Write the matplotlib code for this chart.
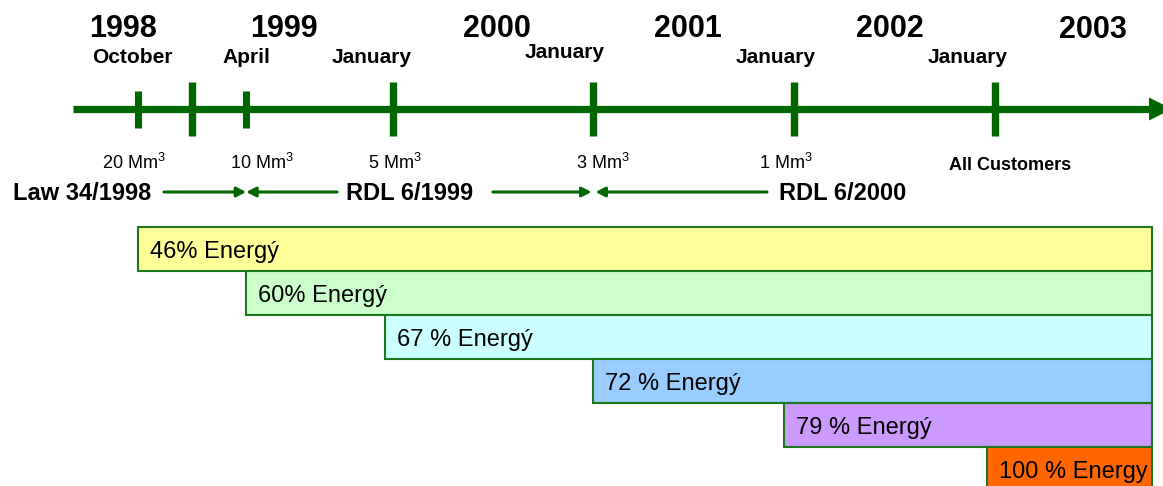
import matplotlib
matplotlib.use("Agg")
import matplotlib.pyplot as plt

plt.rcParams['font.family'] = ['Liberation Sans', 'DejaVu Sans']
plt.rcParams['mathtext.fontset'] = 'custom'
plt.rcParams['mathtext.rm'] = 'Liberation Sans'
plt.rcParams['mathtext.it'] = 'Liberation Sans'

# ---------------- data ----------------
year_labels = ['1998', '1999', '2000', '2001', '2002', '2003']
month_labels = ['October', 'April', 'January', 'January', 'January', 'January']
threshold_labels = ['20 Mm$^{3}$', '10 Mm$^{3}$', '5 Mm$^{3}$', '3 Mm$^{3}$', '1 Mm$^{3}$', 'All Customers']
year_ticks = [1999.0, 2000.0, 2001.0, 2002.0, 2003.0]          # big ticks (January)
event_ticks = [1998.73, 1999.27]                                 # October 1998, April 1999
law_names = ['Law 34/1998', 'RDL 6/1999', 'RDL 6/2000']
law_bounds = [1999.27, 2001.0, 2003.84]                          # end of each law period
bar_labels = ['46% Energý', '60% Energý', '67 % Energý', '72 % Energý', '79 % Energý', '100 % Energy']
bar_starts = [1998.73, 1999.27, 1999.96, 2001.0, 2001.95, 2002.96]
bar_end = 2003.78
bar_colors = ['#FFFF99', '#CCFFCC', '#CCFFFF', '#99CCFF', '#CC99FF', '#FF6600']

# ---------------- layout ----------------
W, H = 1163, 486
PX0, PPY = 192.0, 200.75          # pixel of 1999.0, pixels per year


def yr(px):
    return 1999.0 + (px - PX0) / PPY


GREEN = '#006600'

fig = plt.figure(figsize=(W / 100, H / 100), dpi=100)
ax = fig.add_axes([0, 0, 1, 1])
ax.set_xlim(yr(0), yr(W))
ax.set_ylim(H, 0)
ax.axis('off')

# main timeline
ax.plot([yr(73), yr(1152)], [109, 109], color=GREEN, lw=5.2, solid_capstyle='butt')
ax.fill([yr(1149), yr(1149), yr(1172)], [97.5, 120.5, 109], color=GREEN, lw=0)
ax.vlines(year_ticks, 82, 136, color=GREEN, lw=5.3, capstyle='butt')
ax.vlines(event_ticks, 91, 128, color=GREEN, lw=5.1, capstyle='butt')

# year labels
year_px = [123, 284, 497, 688, 890, 1093]
year_base = [37, 37, 37, 37, 37, 38.5]
for lab, x, b in zip(year_labels, year_px, year_base):
    ax.text(yr(x), b, lab, ha='center', va='baseline', fontsize=22, fontweight='bold')

month_px = [132, 246, 372, 565, 776, 968]
month_base = [63, 63, 63, 58, 63, 63]
for lab, x, b in zip(month_labels, month_px, month_base):
    ax.text(yr(x), b, lab, ha='center', va='baseline', fontsize=15, fontweight='bold')

thr_px = [134, 262, 395, 603, 786, 1010]
for i, (lab, x) in enumerate(zip(threshold_labels, thr_px)):
    if i == len(threshold_labels) - 1:
        ax.text(yr(x), 170, lab, ha='center', va='baseline', fontsize=13, fontweight='bold')
    else:
        ax.text(yr(x), 169, lab, ha='center', va='baseline', fontsize=13)

# laws
law_px = [82, 410, 843]
for lab, x in zip(law_names, law_px):
    ax.text(yr(x), 199.5, lab, ha='center', va='baseline', fontsize=17, fontweight='bold')

ay = 192
arrow_kw = dict(arrowstyle='-|>,head_length=0.55,head_width=0.28', color=GREEN, lw=2.2,
                shrinkA=0, shrinkB=0)
# Law 34/1998 -> April 1999
ax.annotate('', xy=(law_bounds[0], ay), xytext=(yr(164), ay), arrowprops=arrow_kw)
# RDL 6/1999 spans April 1999 .. January 2001
ax.annotate('', xy=(law_bounds[0], ay), xytext=(yr(337), ay), arrowprops=arrow_kw)
ax.annotate('', xy=(law_bounds[1] - 0.01, ay), xytext=(yr(493), ay), arrowprops=arrow_kw)
# RDL 6/2000 spans January 2001 .. end
ax.annotate('', xy=(law_bounds[1] + 0.01, ay), xytext=(yr(767), ay), arrowprops=arrow_kw)
ax.annotate('', xy=(law_bounds[2], ay), xytext=(yr(913), ay), arrowprops=arrow_kw)

# energy bars
row_h = 44
for i, (lab, s, c) in enumerate(zip(bar_labels, bar_starts, bar_colors)):
    top = 227 + i * row_h
    ax.barh(top + row_h / 2, bar_end - s, left=s, height=row_h, color=c,
            edgecolor='#1E781E', linewidth=1.5, align='center')
    ax.text(s + 12 / PPY, top + 31, lab, ha='left', va='baseline', fontsize=17)

fig.savefig('out.png', dpi=100)
